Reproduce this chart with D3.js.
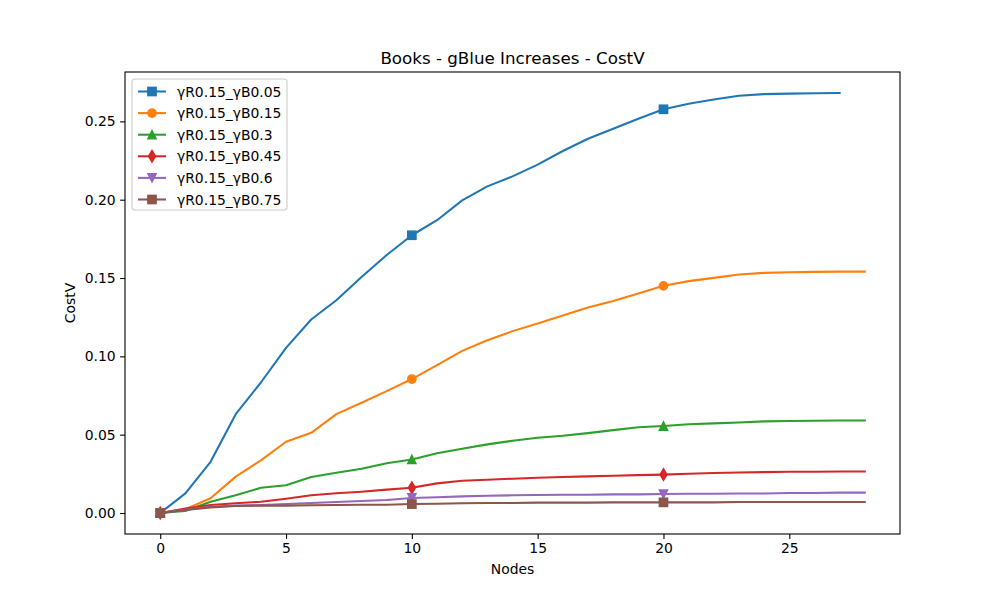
<!DOCTYPE html>
<html>
<head>
<meta charset="utf-8">
<script src="https://cdn.jsdelivr.net/npm/d3@7/dist/d3.min.js"></script>
<style>
  body { margin: 0; background: #fff; }
  svg { font-family: "DejaVu Sans", sans-serif; }
</style>
</head>
<body>
<div id="chart"></div>
<script>
// Data
const seriesNames = ['γR0.15_γB0.05', 'γR0.15_γB0.15', 'γR0.15_γB0.3', 'γR0.15_γB0.45', 'γR0.15_γB0.6', 'γR0.15_γB0.75'];

const blue = [0, 0.0125, 0.0327, 0.0631, 0.0833, 0.1054, 0.1235, 0.1358, 0.1507, 0.1647,
  0.1773, 0.1869, 0.1996, 0.2085, 0.2149, 0.2224, 0.2311, 0.2389, 0.2453, 0.2517,
  0.2577, 0.2613, 0.2640, 0.2664, 0.2674, 0.2677, 0.2679, 0.2681];
const orange = [0, 0.0024, 0.0094, 0.0232, 0.0336, 0.0455, 0.0512, 0.0631, 0.0704, 0.0778,
  0.0855, 0.0944, 0.1035, 0.1103, 0.1161, 0.1210, 0.1261, 0.1312, 0.1354, 0.1401,
  0.1450, 0.1480, 0.1501, 0.1522, 0.1533, 0.1537, 0.1539, 0.1541, 0.1541];
const green = [0, 0.0013, 0.0072, 0.0113, 0.0161, 0.0177, 0.0230, 0.0257, 0.0283, 0.0317,
  0.0342, 0.0381, 0.0410, 0.0438, 0.0461, 0.0480, 0.0493, 0.0510, 0.0529, 0.0547,
  0.0555, 0.0566, 0.0572, 0.0578, 0.0585, 0.0587, 0.0589, 0.0591, 0.0591];
const red = [0, 0.0028, 0.0051, 0.0062, 0.0072, 0.0091, 0.0113, 0.0126, 0.0136, 0.0149,
  0.0161, 0.0189, 0.0206, 0.0212, 0.0219, 0.0225, 0.0230, 0.0234, 0.0238, 0.0242,
  0.0245, 0.0251, 0.0255, 0.0259, 0.0261, 0.0263, 0.0263, 0.0265, 0.0265];
const purple = [0, 0.0021, 0.0040, 0.0047, 0.0051, 0.0057, 0.0064, 0.0070, 0.0077, 0.0083,
  0.0096, 0.0100, 0.0106, 0.0110, 0.0113, 0.0115, 0.0117, 0.0117, 0.0119, 0.0119,
  0.0121, 0.0123, 0.0123, 0.0125, 0.0125, 0.0128, 0.0128, 0.0130, 0.0130];
const brown = [0, 0.0019, 0.0036, 0.0045, 0.0047, 0.0047, 0.0049, 0.0051, 0.0053, 0.0053,
  0.0057, 0.0059, 0.0062, 0.0064, 0.0064, 0.0066, 0.0066, 0.0066, 0.0068, 0.0068,
  0.0068, 0.0068, 0.0068, 0.0070, 0.0070, 0.0070, 0.0070, 0.0070, 0.0070];

const xTicks = [0, 5, 10, 15, 20, 25];
const yTicks = [0, 0.05, 0.10, 0.15, 0.20, 0.25];
const markEvery = 10;

const colors = ['#1f77b4', '#ff7f0e', '#2ca02c', '#d62728', '#9467bd', '#8c564b'];
const markers = ['square', 'circle', 'triangleUp', 'thinDiamond', 'triangleDown', 'square'];
const allSeries = [blue, orange, green, red, purple, brown];

// ─── Layout ──────────────────────────────────────────────────────────────────

const W = 1000, H = 600;
const plot = { left: 125, right: 900, top: 72, bottom: 534 };

const svg = d3.select('#chart').append('svg')
  .attr('width', W).attr('height', H);

const xMax = d3.max(allSeries, s => s.length - 1);
const yMax = d3.max(allSeries, s => d3.max(s));
const xPad = xMax * 0.05, yPad = yMax * 0.05;

const x = d3.scaleLinear().domain([-xPad, xMax + xPad]).range([plot.left, plot.right]);
const y = d3.scaleLinear().domain([-yPad, yMax + yPad]).range([plot.bottom, plot.top]);

// ─── Axes ────────────────────────────────────────────────────────────────────

const xAxis = svg.append('g')
  .attr('transform', `translate(0,${plot.bottom})`)
  .call(d3.axisBottom(x).tickValues(xTicks).tickSize(4.9).tickPadding(4.5).tickFormat(d3.format('d')));
const yAxis = svg.append('g')
  .attr('transform', `translate(${plot.left},0)`)
  .call(d3.axisLeft(y).tickValues(yTicks).tickSize(4.9).tickPadding(4.5).tickFormat(d3.format('.2f')));

[xAxis, yAxis].forEach(g => {
  g.select('.domain').remove();
  g.selectAll('line').attr('stroke', '#000').attr('stroke-width', 1.1);
  g.selectAll('text').attr('font-size', '13.9px').attr('fill', '#000')
    .attr('font-family', '"DejaVu Sans", sans-serif');
});

// ─── Lines + markers ────────────────────────────────────────────────────────

const line = d3.line().x((d, i) => x(i)).y(d => y(d));
const ms = 8.33;

function drawMarker(g, type, cx, cy, color, size) {
  const h = size / 2;
  let el;
  switch (type) {
    case 'square':
      el = g.append('rect').attr('x', cx - h).attr('y', cy - h).attr('width', size).attr('height', size);
      break;
    case 'circle':
      el = g.append('circle').attr('cx', cx).attr('cy', cy).attr('r', h);
      break;
    case 'triangleUp':
      el = g.append('path').attr('d', `M${cx},${cy - h}L${cx + h},${cy + h}L${cx - h},${cy + h}Z`);
      break;
    case 'triangleDown':
      el = g.append('path').attr('d', `M${cx},${cy + h}L${cx + h},${cy - h}L${cx - h},${cy - h}Z`);
      break;
    case 'thinDiamond': {
      // matplotlib 'd': rotated unit square, scaled 0.6 wide
      const dh = h * Math.SQRT2, dw = dh * 0.6;
      el = g.append('path').attr('d', `M${cx},${cy - dh}L${cx + dw},${cy}L${cx},${cy + dh}L${cx - dw},${cy}Z`);
      break;
    }
  }
  el.attr('fill', color).attr('stroke', color).attr('stroke-width', 1.39).attr('stroke-linejoin', 'miter');
}

const plotArea = svg.append('g');
allSeries.forEach((s, k) => {
  const g = plotArea.append('g');
  g.append('path').datum(s)
    .attr('d', line)
    .attr('fill', 'none')
    .attr('stroke', colors[k])
    .attr('stroke-width', 2.08)
    .attr('stroke-linejoin', 'round')
    .attr('stroke-linecap', 'square');
  s.forEach((v, i) => {
    if (i % markEvery === 0) drawMarker(g, markers[k], x(i), y(v), colors[k], ms);
  });
});

// ─── Frame ──────────────────────────────────────────────────────────────────

svg.append('rect')
  .attr('x', plot.left).attr('y', plot.top)
  .attr('width', plot.right - plot.left).attr('height', plot.bottom - plot.top)
  .attr('fill', 'none').attr('stroke', '#000').attr('stroke-width', 1.1);

// ─── Titles ─────────────────────────────────────────────────────────────────

svg.append('text')
  .attr('x', (plot.left + plot.right) / 2).attr('y', 64)
  .attr('text-anchor', 'middle').attr('font-size', '16.7px')
  .text('Books - gBlue Increases - CostV');

svg.append('text')
  .attr('x', (plot.left + plot.right) / 2).attr('y', 574)
  .attr('text-anchor', 'middle').attr('font-size', '13.9px')
  .text('Nodes');

svg.append('text')
  .attr('transform', `translate(75,${(plot.top + plot.bottom) / 2}) rotate(-90)`)
  .attr('text-anchor', 'middle').attr('font-size', '13.9px')
  .text('CostV');

// ─── Legend ─────────────────────────────────────────────────────────────────

const leg = svg.append('g').attr('transform', 'translate(132,79)');
leg.append('rect')
  .attr('width', 155).attr('height', 131)
  .attr('rx', 3).attr('ry', 3)
  .attr('fill', '#fff').attr('fill-opacity', 0.8)
  .attr('stroke', '#cccccc').attr('stroke-width', 1.1);

seriesNames.forEach((name, k) => {
  const cy = 12.5 + k * 21.6;
  leg.append('line')
    .attr('x1', 6).attr('x2', 34).attr('y1', cy).attr('y2', cy)
    .attr('stroke', colors[k]).attr('stroke-width', 2.08);
  drawMarker(leg, markers[k], 20, cy, colors[k], ms);
  leg.append('text')
    .attr('x', 45).attr('y', cy + 5)
    .attr('font-size', '13.9px')
    .text(name);
});
</script>
</body>
</html>
